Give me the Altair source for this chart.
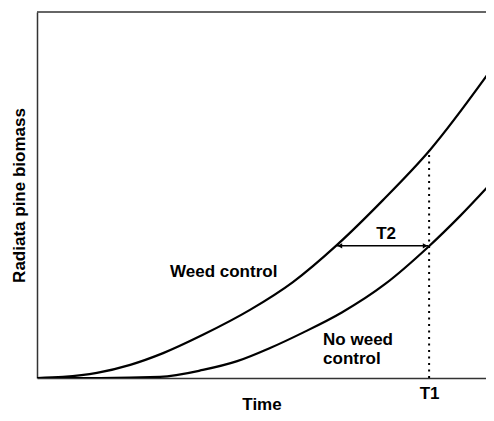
import altair as alt
import pandas as pd

# Curves (time and biomass in arbitrary units 0-100)
time_wc = [0, 5.7, 13.1, 20.4, 27.6, 36.3, 46.6, 56.0, 65.6, 75.7, 86.0, 99.8]
biomass_wc = [0, 0.3, 1.4, 3.6, 6.8, 11.8, 18.6, 26.2, 36.3, 48.6, 62.3, 85.0]
time_nwc = [0, 13.8, 26.9, 36.3, 43.8, 51.0, 58.2, 66.7, 76.2, 85.6, 92.6, 100]
biomass_nwc = [0, 0, 0.3, 2.2, 4.6, 8.2, 12.4, 17.9, 25.7, 35.8, 44.3, 54.1]

T1 = 85.8
T1_top = 62.3
T2_start = 65.6
T2_end = 85.6
T2_level = 36.1

label_text = ["Weed control", "No weed", "control", "T2"]
label_time = [29.1, 62.6, 62.6, 76.4]
label_biomass = [27.6, 9.0, 3.8, 38.0]
label_align = ["left", "left", "left", "center"]

FONT = "Liberation Sans"

curves = pd.DataFrame(
    {"time": time_wc + time_nwc,
     "biomass": biomass_wc + biomass_nwc,
     "series": ["Weed control"] * len(time_wc) + ["No weed control"] * len(time_nwc)}
)

xscale = alt.Scale(domain=[0, 98.25], nice=False, zero=False)
yscale = alt.Scale(domain=[0, 100], nice=False)

base = alt.Chart(curves)

lines = base.mark_line(color="black", strokeWidth=2.2, clip=True, interpolate="monotone").encode(
    x=alt.X("time:Q", scale=xscale,
            axis=alt.Axis(values=[T1], labelExpr="'T1'", ticks=False, grid=False,
                          title="Time", labelPadding=7,
                          titleBaseline="alphabetic", titleY=31)),
    y=alt.Y("biomass:Q", scale=yscale,
            axis=alt.Axis(labels=False, ticks=False, grid=False,
                          title="Radiata pine biomass", titlePadding=9)),
    detail="series:N",
)

t1_df = pd.DataFrame({"t": [T1], "b0": [0], "b1": [T1_top]})
t1_rule = alt.Chart(t1_df).mark_rule(color="black", strokeWidth=2, strokeDash=[2, 4.5]).encode(
    x=alt.X("t:Q", scale=xscale), y=alt.Y("b0:Q", scale=yscale), y2="b1:Q"
)

t2_df = pd.DataFrame({"t0": [T2_start], "t1": [T2_end], "b": [T2_level]})
t2_rule = alt.Chart(t2_df).mark_rule(color="black", strokeWidth=1.5).encode(
    x=alt.X("t0:Q", scale=xscale), x2="t1:Q", y=alt.Y("b:Q", scale=yscale)
)

head_l = alt.Chart(pd.DataFrame({"t": [T2_start], "b": [T2_level]})).mark_point(
    shape="triangle-left", filled=True, color="black", size=30, opacity=1, xOffset=3
).encode(x=alt.X("t:Q", scale=xscale), y=alt.Y("b:Q", scale=yscale))

head_r = alt.Chart(pd.DataFrame({"t": [T2_end], "b": [T2_level]})).mark_point(
    shape="triangle-right", filled=True, color="black", size=30, opacity=1, xOffset=-3
).encode(x=alt.X("t:Q", scale=xscale), y=alt.Y("b:Q", scale=yscale))

labels_df = pd.DataFrame({"text": label_text, "t": label_time, "b": label_biomass, "align": label_align})
labels_left = alt.Chart(labels_df[labels_df["align"] == "left"]).mark_text(
    font=FONT, fontSize=17, fontWeight="bold", align="left", baseline="alphabetic", color="black"
).encode(x=alt.X("t:Q", scale=xscale), y=alt.Y("b:Q", scale=yscale), text="text:N")
labels_center = alt.Chart(labels_df[labels_df["align"] == "center"]).mark_text(
    font=FONT, fontSize=17, fontWeight="bold", align="center", baseline="alphabetic", color="black"
).encode(x=alt.X("t:Q", scale=xscale), y=alt.Y("b:Q", scale=yscale), text="text:N")

top_line = alt.Chart(pd.DataFrame({"a": [0]})).mark_rule(color="#333", strokeWidth=1.5).encode(
    x=alt.value(0), x2=alt.value(449), y=alt.value(0)
)

chart = alt.layer(
    lines, t1_rule, t2_rule, head_l, head_r, labels_left, labels_center, top_line
).properties(
    width=449, height=366,
    autosize=alt.AutoSizeParams(type="none"),
    padding={"left": 29, "top": 4, "right": 0, "bottom": 35},
).configure_view(stroke=None).configure_axis(
    domainColor="#333", domainWidth=1.5,
    labelFont=FONT, labelFontSize=17, labelFontWeight="bold", labelColor="black",
    titleFont=FONT, titleFontSize=17, titleFontWeight="bold", titleColor="black",
)

chart.save("out.html", embed_options={"renderer": "svg", "actions": False})
